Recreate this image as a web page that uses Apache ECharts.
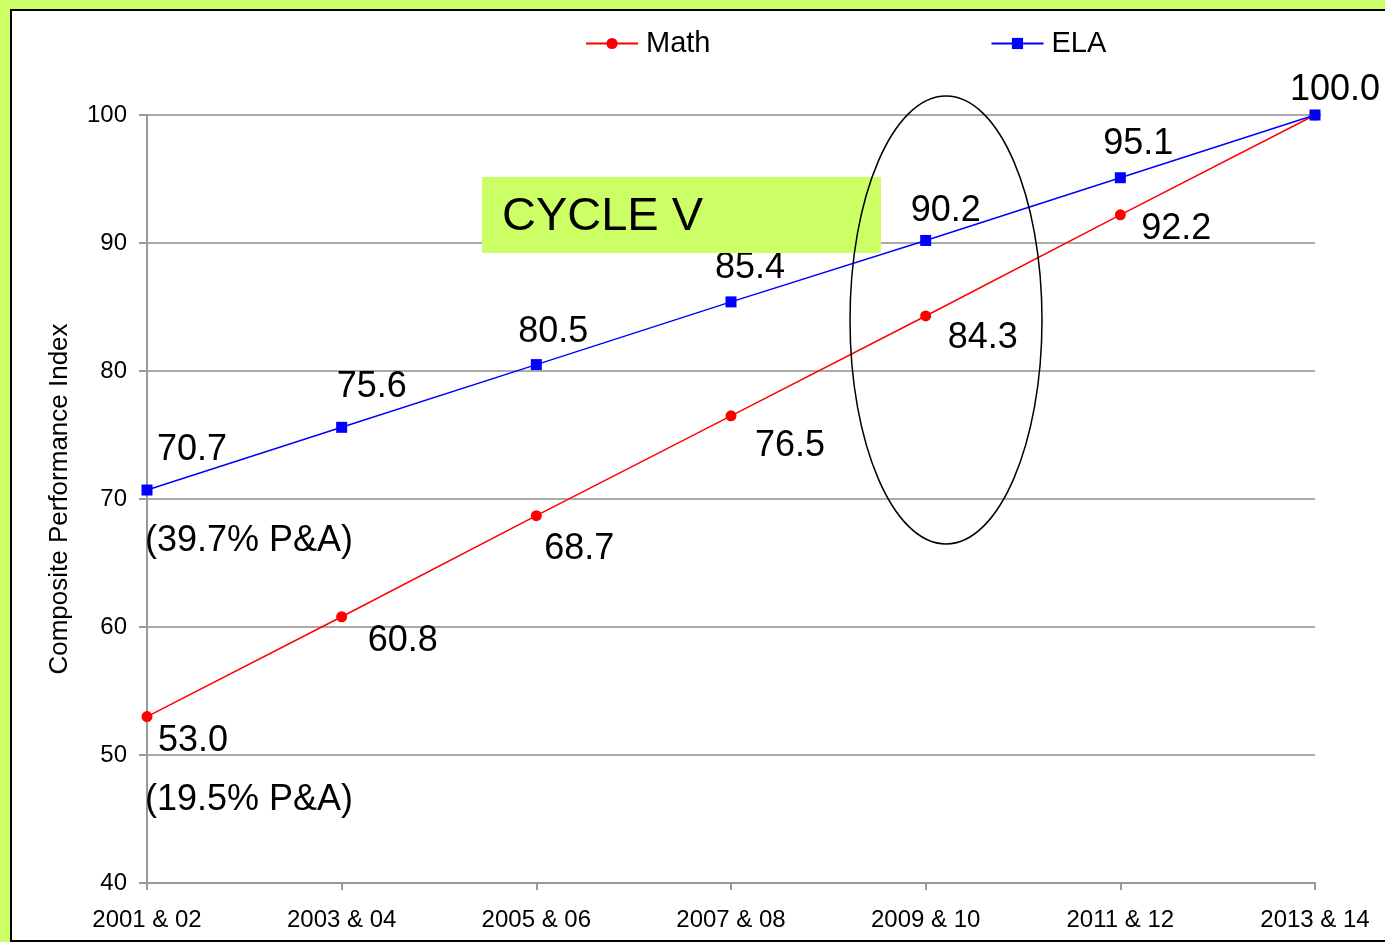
<!DOCTYPE html>
<html lang="en">
<head>
    <meta charset="UTF-8">
    <title>Composite Performance Index</title>
    <style>
        html, body { margin: 0; padding: 0; }
        body { width: 1385px; height: 942px; background: #ccff66; position: relative; overflow: hidden; }
        #frame { position: absolute; left: 10px; top: 9px; width: 1385px; height: 929px;
                 background: #fff; border-left: 2px solid #000; border-top: 2px solid #000; border-bottom: 2px solid #000; }
        #main { position: absolute; left: 0; top: 0; width: 1385px; height: 942px; }
    </style>
    <script src="https://cdn.jsdelivr.net/npm/echarts@6/dist/echarts.min.js"></script>
</head>
<body>
    <div id="frame"></div>
    <div id="main"></div>
    <script type="text/javascript">
        var categories = ['2001 & 02', '2003 & 04', '2005 & 06', '2007 & 08', '2009 & 10', '2011 & 12', '2013 & 14'];
        var mathValues = [53.0, 60.8, 68.7, 76.5, 84.3, 92.2, 100.0];
        var elaValues = [70.7, 75.6, 80.5, 85.4, 90.2, 95.1, 100.0];

        // label offsets from each point (label centre)
        var elaOffsets = [[45, -40], [30, -40], [17, -33], [19, -34], [20, -29], [18, -34], [20, -25]];
        var mathOffsets = [[46, 24], [61, 24], [43, 33], [59, 30], [57, 22], [56, 14], null];

        var font = '"Liberation Sans", Arial, sans-serif';
        var chart = echarts.init(document.getElementById('main'));

        function withLabels(values, offsets) {
            return values.map(function (v, i) {
                var o = offsets[i];
                return {
                    value: v,
                    label: o ? { show: true, position: 'inside', offset: o } : { show: false }
                };
            });
        }

        var labelStyle = {
            show: true,
            formatter: function (p) { return p.value.toFixed(1); },
            fontFamily: font,
            fontSize: 36,
            color: '#000',
            align: 'center',
            verticalAlign: 'middle'
        };

        var option = {
            animation: false,
            backgroundColor: 'transparent',
            textStyle: { fontFamily: font },
            legend: {
                left: 580,
                top: 24,
                itemWidth: 52,
                itemHeight: 14,
                itemGap: 280,
                textStyle: { fontFamily: font, fontSize: 29, color: '#000', padding: [0, 0, 0, 3] },
                data: ['Math', 'ELA']
            },
            grid: { left: 147, right: 70, top: 115, bottom: 59, containLabel: false },
            xAxis: {
                type: 'category',
                data: categories,
                boundaryGap: false,
                axisLine: { lineStyle: { color: '#999', width: 2 } },
                axisTick: { show: true, length: 7, lineStyle: { color: '#999', width: 2 } },
                axisLabel: { color: '#000', fontSize: 24, fontFamily: font, margin: 25 }
            },
            yAxis: {
                type: 'value',
                min: 40,
                max: 100,
                interval: 10,
                name: 'Composite Performance Index',
                nameLocation: 'middle',
                nameGap: 74,
                nameRotate: 90,
                nameTextStyle: { color: '#000', fontSize: 26, fontFamily: font },
                axisLine: { show: true, lineStyle: { color: '#999', width: 2 } },
                axisTick: { show: true, length: 8, lineStyle: { color: '#999', width: 2 } },
                axisLabel: { color: '#000', fontSize: 24, fontFamily: font, margin: 20 },
                splitLine: { show: true, lineStyle: { color: '#aaa', width: 2 } }
            },
            series: [{
                name: 'Math',
                type: 'line',
                data: withLabels(mathValues, mathOffsets),
                symbol: 'circle',
                symbolSize: 11,
                color: '#ff0000',
                lineStyle: { color: '#ff0000', width: 1.5 },
                itemStyle: { color: '#ff0000' },
                label: labelStyle,
                z: 3
            }, {
                name: 'ELA',
                type: 'line',
                data: withLabels(elaValues, elaOffsets),
                symbol: 'rect',
                symbolSize: 11,
                color: '#0000ff',
                lineStyle: { color: '#0000ff', width: 1.5 },
                itemStyle: { color: '#0000ff' },
                label: labelStyle,
                z: 4
            }],
            graphic: [{
                type: 'rect',
                shape: { x: 482, y: 177, width: 399, height: 76 },
                style: { fill: '#ccff66' },
                z: 10
            }, {
                type: 'text',
                x: 502, y: 217,
                style: { text: 'CYCLE V', font: '47px ' + font, fill: '#000', textVerticalAlign: 'middle' },
                z: 11
            }, {
                type: 'ellipse',
                shape: { cx: 946, cy: 320, rx: 96, ry: 224 },
                style: { fill: 'none', stroke: '#000', lineWidth: 1.5 },
                z: 12
            }, {
                type: 'text',
                x: 145, y: 541,
                style: { text: '(39.7% P&A)', font: '36px ' + font, fill: '#000', textVerticalAlign: 'middle' },
                z: 11
            }, {
                type: 'text',
                x: 145, y: 800,
                style: { text: '(19.5% P&A)', font: '36px ' + font, fill: '#000', textVerticalAlign: 'middle' },
                z: 11
            }]
        };

        chart.setOption(option);
    </script>
</body>
</html>
